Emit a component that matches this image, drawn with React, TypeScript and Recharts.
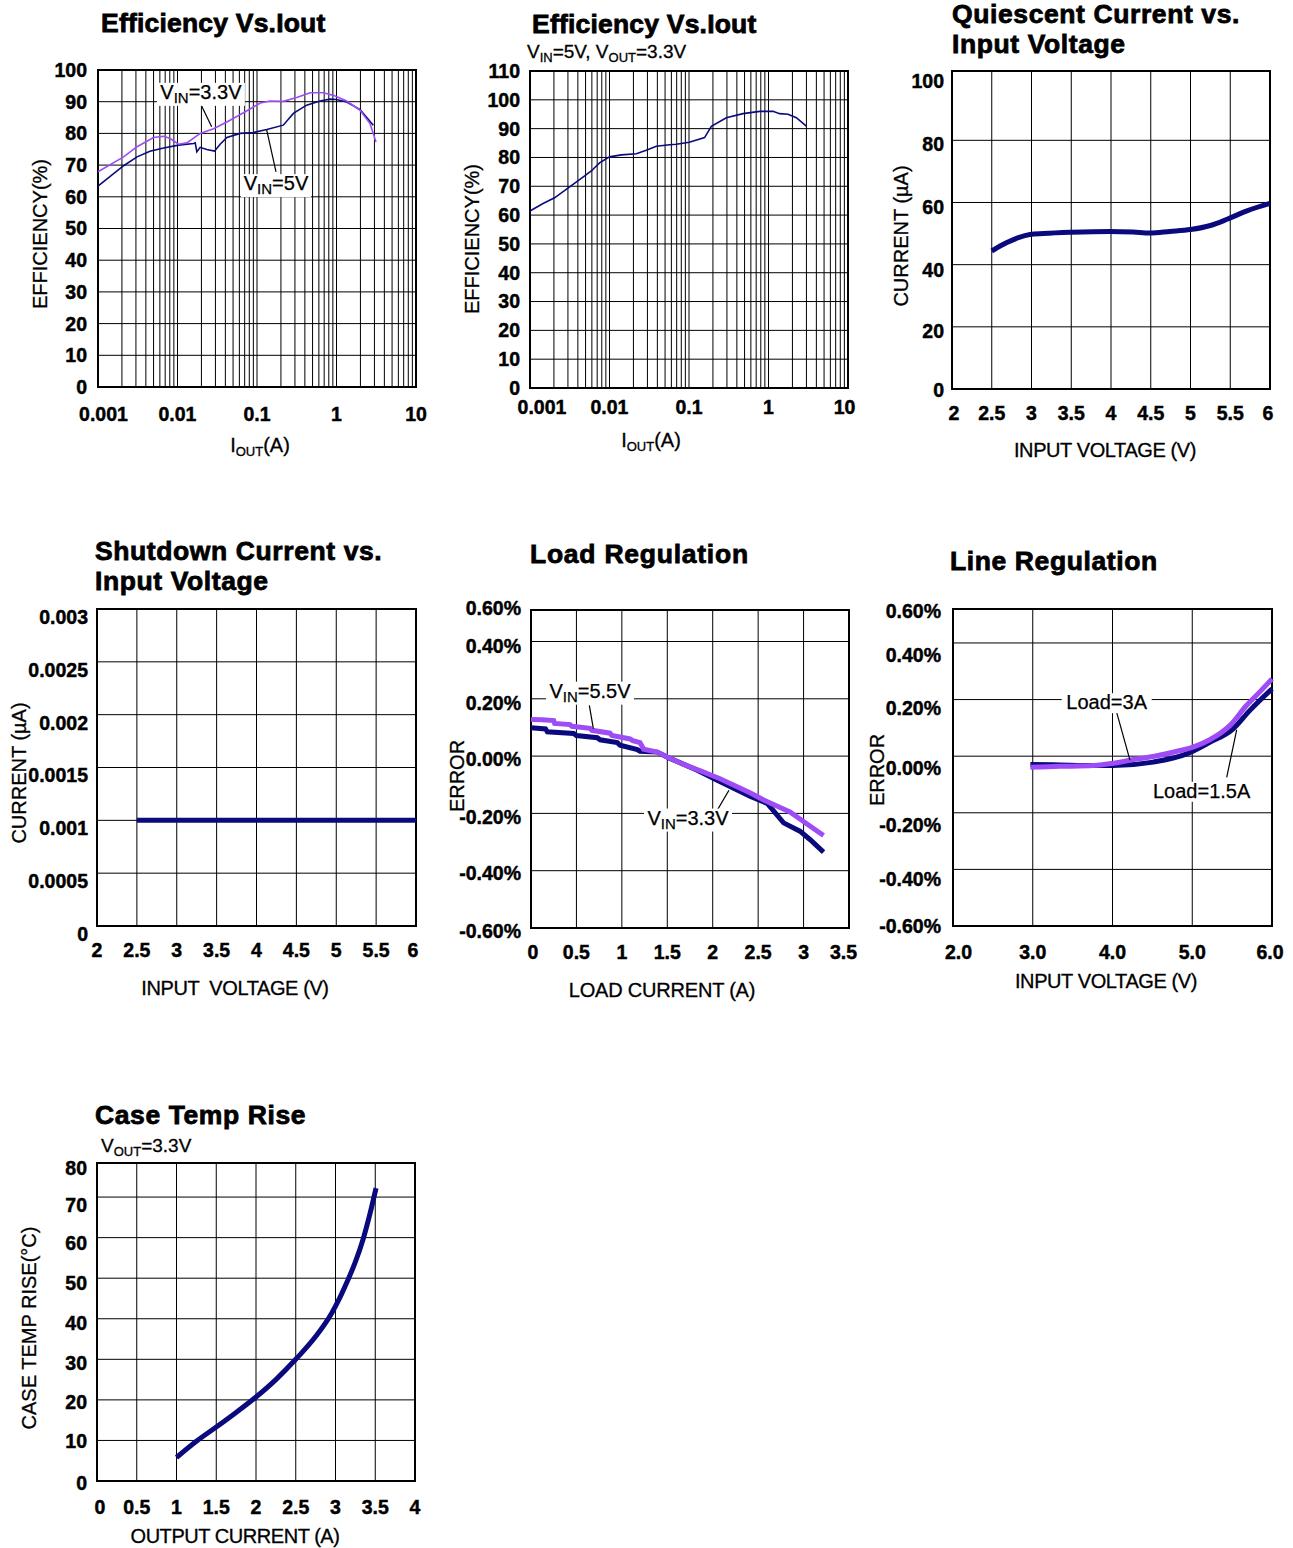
import React from "react";
import {
  LineChart, Line, XAxis, YAxis, CartesianGrid, ReferenceArea, ReferenceLine, ReferenceDot,
} from "recharts";

const FONT = '"Liberation Sans", Arial, Helvetica, sans-serif';
const NAVY = "#0a0a7e";
const PURPLE = "#9d4cf6";

// ---- Efficiency vs Iout (left, two input voltages) ----
const effIout33 = [0.001, 0.0021, 0.0031, 0.005, 0.0067, 0.0081, 0.0103, 0.0131, 0.0193, 0.0284, 0.0418, 0.0676, 0.11, 0.146, 0.214, 0.316, 0.466, 0.684, 0.913, 1.345, 1.98, 2.64, 3.14];
const eff33 = [67.9, 72.6, 75.8, 78.7, 79.1, 78.4, 76.6, 77.0, 80.0, 81.5, 83.6, 86.5, 89.6, 90.2, 90.1, 91.3, 92.8, 92.8, 92.0, 90.2, 87.3, 83.1, 77.3];
const effIout5 = [0.001, 0.0021, 0.0031, 0.0045, 0.0067, 0.0103, 0.0159, 0.0167, 0.0175, 0.0193, 0.0234, 0.0292, 0.0344, 0.0418, 0.0616, 0.0904, 0.133, 0.214, 0.287, 0.421, 0.62, 0.83, 1.0, 1.345, 1.98, 2.9];
const eff5 = [63.4, 69.8, 72.6, 74.4, 75.4, 76.3, 76.8, 77.0, 74.2, 75.6, 74.9, 74.4, 76.6, 78.7, 80.0, 80.3, 81.2, 82.6, 86.3, 88.9, 90.2, 90.8, 90.7, 89.9, 87.5, 82.6];
const eff1Ticks = [0, 10, 20, 30, 40, 50, 60, 70, 80, 90, 100];

// ---- Efficiency vs Iout (VIN=5V, VOUT=3.3V) ----
const eff2Iout = [0.001, 0.00146, 0.00204, 0.00315, 0.00464, 0.0059, 0.0075, 0.01, 0.0141, 0.0218, 0.029, 0.0388, 0.0571, 0.0692, 0.1008, 0.157, 0.191, 0.295, 0.478, 0.775, 1.14, 1.38, 1.76, 2.24, 2.99];
const eff2 = [61.4, 64.0, 66.0, 69.8, 73.2, 75.3, 78.1, 80.2, 80.9, 81.3, 82.5, 83.9, 84.4, 84.6, 85.3, 86.9, 90.8, 93.8, 95.2, 96.0, 96.0, 95.2, 95.0, 93.8, 90.9];
const eff2Ticks = [0, 10, 20, 30, 40, 50, 60, 70, 80, 90, 100, 110];

const decades = [0.001, 0.01, 0.1, 1, 10];
const decadeLabels = ["0.001", "0.01", "0.1", "1", "10"];
const logTicks = decades.flatMap((d, i) =>
  i === decades.length - 1 ? [d] : [1, 2, 3, 4, 5, 6, 7, 8, 9].map((m) => +(m * d).toPrecision(3))
);

// ---- Quiescent current ----
const iqVin = [2.5, 2.69, 2.835, 2.98, 3.15, 3.49, 3.99, 4.28, 4.49, 4.74, 5.0, 5.25, 5.46, 5.71, 6.0];
const iqCur = [44.4, 47.1, 48.7, 49.7, 50.0, 50.4, 50.7, 50.5, 50.2, 50.7, 51.3, 52.6, 54.6, 57.3, 59.7];
const iqTicks = [0, 20, 40, 60, 80, 102.3];
const iqLabels = ["0", "20", "40", "60", "80", "100"];
const vinTicks = [2, 2.5, 3, 3.5, 4, 4.5, 5, 5.5, 6];
const vinLabels = ["2", "2.5", "3", "3.5", "4", "4.5", "5", "5.5", "6"];

// ---- Shutdown current ----
const sdVin = [2.5, 3, 3.5, 4, 4.5, 5, 5.5, 6];
const sdCur = [0.001, 0.001, 0.001, 0.001, 0.001, 0.001, 0.001, 0.001];
const sdTicks = [0, 0.0005, 0.001, 0.0015, 0.002, 0.0025, 0.003];
const sdLabels = ["0", "0.0005", "0.001", "0.0015", "0.002", "0.0025", "0.003"];

// ---- Load regulation ----
const lrI55 = [0, 0.12, 0.25, 0.26, 0.43, 0.45, 0.65, 0.67, 0.87, 0.89, 1.09, 1.12, 1.2, 1.24, 1.39, 1.5, 1.68, 1.9, 2.08, 2.41, 2.56, 2.85, 3.07, 3.22];
const lrE55 = [0.128, 0.127, 0.124, 0.114, 0.110, 0.104, 0.097, 0.090, 0.080, 0.072, 0.060, 0.054, 0.047, 0.024, 0.014, -0.003, -0.029, -0.056, -0.079, -0.128, -0.153, -0.195, -0.244, -0.277];
const lrI33 = [0, 0.16, 0.18, 0.47, 0.5, 0.73, 0.76, 0.95, 0.98, 1.17, 1.2, 1.39, 1.53, 1.83, 2.05, 2.41, 2.6, 2.78, 2.96, 3.07, 3.22];
const lrE33 = [0.099, 0.095, 0.085, 0.079, 0.072, 0.064, 0.057, 0.047, 0.038, 0.023, 0.017, 0.014, -0.008, -0.049, -0.084, -0.140, -0.165, -0.233, -0.262, -0.291, -0.335];
const lrTicks = [-0.6, -0.4, -0.2, 0, 0.2, 0.4, 0.51];
const errLabels = ["-0.60%", "-0.40%", "-0.20%", "0.00%", "0.20%", "0.40%", "0.60%"];
const loadTicks = [0, 0.5, 1, 1.5, 2, 2.5, 3, 3.5];
const loadLabels = ["0", "0.5", "1", "1.5", "2", "2.5", "3", "3.5"];

// ---- Line regulation ----
const lnV3A = [2.97, 3.34, 3.76, 4.01, 4.26, 4.51, 4.85, 5.01, 5.22, 5.47, 5.68, 5.85, 6.0];
const lnE3A = [-0.039, -0.036, -0.033, -0.025, -0.012, -0.001, 0.020, 0.032, 0.058, 0.108, 0.179, 0.228, 0.273];
const lnV15A = [2.97, 3.34, 3.76, 4.01, 4.51, 4.93, 5.22, 5.51, 5.72, 6.0];
const lnE15A = [-0.029, -0.031, -0.033, -0.033, -0.021, 0.008, 0.049, 0.096, 0.161, 0.238];
const lnTicks = [-0.6, -0.4, -0.2, 0, 0.2, 0.4, 0.52];
const lnVTicks = [2, 3, 4, 5, 6];
const lnVLabels = ["2.0", "3.0", "4.0", "5.0", "6.0"];

// ---- Case temp rise ----
const ctI = [1.0, 1.25, 1.5, 1.75, 2.0, 2.25, 2.5, 2.75, 2.95, 3.05, 3.15, 3.25, 3.35, 3.43, 3.51];
const ctT = [5.8, 9.8, 13.3, 16.9, 20.7, 25.0, 30.0, 35.6, 41.3, 45.0, 49.3, 54.0, 59.8, 65.6, 72.2];
const ctTicks = [0, 10, 20, 30, 40, 50, 60, 70, 78.4];
const ctLabels = ["0", "10", "20", "30", "40", "50", "60", "70", "80"];
const ctITicks = [0, 0.5, 1, 1.5, 2, 2.5, 3, 3.5, 4];
const ctILabels = ["0", "0.5", "1", "1.5", "2", "2.5", "3", "3.5", "4"];

const zip = (xs: number[], ys: number[]) => xs.map((x, i) => ({ x, y: ys[i] }));
const byIndex = (labels: string[]) => (_v: number, i: number) => labels[i];
const fmtLog = (v: number) => {
  const i = decades.findIndex((d) => Math.abs(v / d - 1) < 1e-6);
  return i >= 0 ? decadeLabels[i] : "";
};

const PL = 110, PT = 12, PR = 14, PB = 70;

function Frame({ left, top, w, h, children }: any) {
  return (
    <div style={{ position: "absolute", left: left - PL, top: top - PT }}>
      <LineChart width={w + PL + PR} height={h + PT + PB} margin={{ top: PT, right: PR, bottom: 0, left: 0 }}>
        {children}
      </LineChart>
    </div>
  );
}

function Tick(props: any) {
  const { x, y, payload, index, kind, fmt, ox = 0, oy = 0, oxs, oys, fs = 19.5 } = props;
  const label = fmt(payload.value, index);
  if (!label) return null;
  const isY = kind === "y";
  const tx = x + ox + (oxs?.[index] ?? 0);
  const ty = y + oy + (oys?.[index] ?? 0) + (isY ? 0.355 * fs : 0.71 * fs);
  return (
    <text x={tx} y={ty} textAnchor={isY ? "end" : "middle"} fontSize={fs} fontWeight={700} fill="#000"
      stroke="#000" strokeWidth={0.45} fontFamily={FONT}>
      {label}
    </text>
  );
}

function Callout({ viewBox, w, main, sub, rest, fs = 20 }: any) {
  const cx = viewBox.x + viewBox.width / 2;
  const by = viewBox.y + viewBox.height / 2;
  const h = sub ? 23 : 20;
  return (
    <g>
      <rect x={cx - w / 2} y={by - 16} width={w} height={h} fill="#fff" />
      <text x={cx} y={by} textAnchor="middle" fontSize={fs} fontFamily={FONT} fill="#000" stroke="#000" strokeWidth={0.25}>
        {main}
        {sub ? <tspan fontSize={15} dy={4}>{sub}</tspan> : null}
        {rest ? <tspan dy={sub ? -4 : 0}>{rest}</tspan> : null}
      </text>
    </g>
  );
}

function Cap({ x, base, fs = 20, bold = false, center = false, ls = 0, children }: any) {
  return (
    <div
      style={{
        position: "absolute", left: x, top: base - 0.8465 * fs, fontSize: fs, lineHeight: 1,
        fontWeight: bold ? 700 : 400, whiteSpace: "pre", letterSpacing: ls,
        WebkitTextStroke: bold ? "0.8px #000" : "0.3px #000",
        transform: center ? "translateX(-50%)" : undefined,
      }}
    >
      {children}
    </div>
  );
}

function VCap({ cx, cy, fs = 20, ls = 0, children }: any) {
  return (
    <div
      style={{
        position: "absolute", left: cx, top: cy, fontSize: fs, lineHeight: 1, whiteSpace: "pre",
        letterSpacing: ls, WebkitTextStroke: "0.3px #000", transform: "translate(-50%, -50%) rotate(-90deg)",
      }}
    >
      {children}
    </div>
  );
}

const Sub = ({ children, fs = 13, drop = 4 }: any) => (
  <span style={{ fontSize: fs, position: "relative", top: drop }}>{children}</span>
);

const axisCommon = { tickSize: 0, axisLine: false, tickLine: false, interval: 0 as const };
const Border = (p: any) => <ReferenceArea {...p} fill="none" stroke="#000" strokeWidth={2} />;
const TLS = 0.6;

export default function App() {
  return (
    <div style={{ position: "absolute", left: 0, top: 0, width: 1293, height: 1548, background: "#fff", fontFamily: FONT, color: "#000" }}>
      {/* Efficiency vs Iout, two VIN */}
      <Frame left={98} top={70} w={318} h={317}>
        <CartesianGrid stroke="#000" strokeWidth={1} />
        <XAxis type="number" dataKey="x" scale="log" domain={[0.001, 10]} ticks={logTicks} height={PB} {...axisCommon}
          tick={<Tick kind="x" fmt={fmtLog} oy={18} oxs={{ 0: 5.5 }} />} />
        <YAxis type="number" domain={[0, 100]} ticks={eff1Ticks} width={PL} {...axisCommon}
          tick={<Tick kind="y" fmt={(v: number) => String(v)} ox={-9} />} />
        {Border({ x1: 0.001, x2: 10, y1: 0, y2: 100 })}
        <Line data={zip(effIout5, eff5)} dataKey="y" stroke={NAVY} strokeWidth={1.6} dot={false} isAnimationActive={false} />
        <Line data={zip(effIout33, eff33)} dataKey="y" stroke={PURPLE} strokeWidth={1.6} dot={false} isAnimationActive={false} />
        <ReferenceLine segment={[{ x: 0.0202, y: 88.6 }, { x: 0.0269, y: 82.1 }]} stroke="#000" strokeWidth={1.2} />
        <ReferenceLine segment={[{ x: 0.1324, y: 81.1 }, { x: 0.1734, y: 67.9 }]} stroke="#000" strokeWidth={1.2} />
        <ReferenceDot x={0.0197} y={90.9} r={0} fill="none" stroke="none" label={<Callout w={88} main="V" sub="IN" rest="=3.3V" />} />
        <ReferenceDot x={0.1734} y={62.1} r={0} fill="none" stroke="none" label={<Callout w={70} main="V" sub="IN" rest="=5V" />} />
      </Frame>

      {/* Efficiency vs Iout, VIN=5V */}
      <Frame left={530} top={71} w={318} h={317}>
        <CartesianGrid stroke="#000" strokeWidth={1} />
        <XAxis type="number" dataKey="x" scale="log" domain={[0.001, 10]} ticks={logTicks} height={PB} {...axisCommon}
          tick={<Tick kind="x" fmt={fmtLog} oy={10} oxs={{ 0: 12, 36: -3.5 }} />} />
        <YAxis type="number" domain={[0, 110]} ticks={eff2Ticks} width={PL} {...axisCommon}
          tick={<Tick kind="y" fmt={(v: number) => String(v)} ox={-8} />} />
        {Border({ x1: 0.001, x2: 10, y1: 0, y2: 110 })}
        <Line data={zip(eff2Iout, eff2)} dataKey="y" stroke={NAVY} strokeWidth={1.6} dot={false} isAnimationActive={false} />
      </Frame>

      {/* Quiescent current */}
      <Frame left={952} top={71} w={318} h={318}>
        <CartesianGrid stroke="#000" strokeWidth={1} />
        <XAxis type="number" dataKey="x" domain={[2, 6]} ticks={vinTicks} height={PB} {...axisCommon}
          tick={<Tick kind="x" fmt={byIndex(vinLabels)} oy={15.6} oxs={{ 0: 2, 8: -2 }} />} />
        <YAxis type="number" domain={[0, 102.3]} ticks={iqTicks} width={PL} {...axisCommon}
          tick={<Tick kind="y" fmt={byIndex(iqLabels)} ox={-6} oys={[1, 4.3, 5, 4.4, 3.3, 9.6]} />} />
        {Border({ x1: 2, x2: 6, y1: 0, y2: 102.3 })}
        <Line data={zip(iqVin, iqCur)} dataKey="y" type="monotone" stroke={NAVY} strokeWidth={5} dot={false} isAnimationActive={false} />
      </Frame>

      {/* Shutdown current */}
      <Frame left={97} top={609} w={319} h={317}>
        <CartesianGrid stroke="#000" strokeWidth={1} />
        <XAxis type="number" dataKey="x" domain={[2, 6]} ticks={vinTicks} height={PB} {...axisCommon}
          tick={<Tick kind="x" fmt={byIndex(vinLabels)} oy={15.6} oxs={{ 8: -3 }} />} />
        <YAxis type="number" domain={[0, 0.003]} ticks={sdTicks} width={PL} {...axisCommon}
          tick={<Tick kind="y" fmt={byIndex(sdLabels)} ox={-7} oy={8} />} />
        {Border({ x1: 2, x2: 6, y1: 0, y2: 0.003 })}
        <Line data={zip(sdVin, sdCur)} dataKey="y" stroke={NAVY} strokeWidth={5} dot={false} isAnimationActive={false} />
      </Frame>

      {/* Load regulation */}
      <Frame left={531} top={610} w={318} h={318}>
        <CartesianGrid stroke="#000" strokeWidth={1} />
        <XAxis type="number" dataKey="x" domain={[0, 3.5]} ticks={loadTicks} height={PB} {...axisCommon}
          tick={<Tick kind="x" fmt={byIndex(loadLabels)} oy={15.6} oxs={{ 0: 2, 7: -5.5 }} />} />
        <YAxis type="number" domain={[-0.6, 0.51]} ticks={lrTicks} width={PL} {...axisCommon}
          tick={<Tick kind="y" fmt={byIndex(errLabels)} ox={-8} oys={[2.8, 2, 3.3, 2.8, 4.3, 4.3, -2]} />} />
        {Border({ x1: 0, x2: 3.5, y1: -0.6, y2: 0.51 })}
        <Line data={zip(lrI33, lrE33)} dataKey="y" stroke={NAVY} strokeWidth={5} dot={false} isAnimationActive={false} />
        <Line data={zip(lrI55, lrE55)} dataKey="y" stroke={PURPLE} strokeWidth={5} dot={false} isAnimationActive={false} />
        <ReferenceLine segment={[{ x: 0.642, y: 0.177 }, { x: 0.686, y: 0.096 }]} stroke="#000" strokeWidth={1.2} />
        <ReferenceLine segment={[{ x: 2.044, y: -0.192 }, { x: 2.179, y: -0.119 }]} stroke="#000" strokeWidth={1.2} />
        <ReferenceDot x={0.649} y={0.204} r={0} fill="none" stroke="none" label={<Callout w={88} main="V" sub="IN" rest="=5.5V" />} />
        <ReferenceDot x={1.728} y={-0.239} r={0} fill="none" stroke="none" label={<Callout w={88} main="V" sub="IN" rest="=3.3V" />} />
      </Frame>

      {/* Line regulation */}
      <Frame left={953} top={609} w={319} h={317}>
        <CartesianGrid stroke="#000" strokeWidth={1} />
        <XAxis type="number" dataKey="x" domain={[2, 6]} ticks={lnVTicks} height={PB} {...axisCommon}
          tick={<Tick kind="x" fmt={byIndex(lnVLabels)} oy={17} oxs={{ 0: 5.5, 4: -2 }} />} />
        <YAxis type="number" domain={[-0.6, 0.52]} ticks={lnTicks} width={PL} {...axisCommon}
          tick={<Tick kind="y" fmt={byIndex(errLabels)} ox={-10} oys={[0.5, 9.2, 12.5, 11.7, 8.8, 12.2, 1.7]} />} />
        {Border({ x1: 2, x2: 6, y1: -0.6, y2: 0.52 })}
        <Line data={zip(lnV15A, lnE15A)} dataKey="y" type="monotone" stroke={NAVY} strokeWidth={5} dot={false} isAnimationActive={false} />
        <Line data={zip(lnV3A, lnE3A)} dataKey="y" type="monotone" stroke={PURPLE} strokeWidth={5} dot={false} isAnimationActive={false} />
        <ReferenceLine segment={[{ x: 4.053, y: 0.154 }, { x: 4.219, y: -0.014 }]} stroke="#000" strokeWidth={1.2} />
        <ReferenceLine segment={[{ x: 5.432, y: -0.075 }, { x: 5.557, y: 0.093 }]} stroke="#000" strokeWidth={1.2} />
        <ReferenceDot x={3.927} y={0.166} r={0} fill="none" stroke="none" label={<Callout w={90} main="Load=3A" />} />
        <ReferenceDot x={5.118} y={-0.147} r={0} fill="none" stroke="none" label={<Callout w={104} main="Load=1.5A" />} />
      </Frame>

      {/* Case temp rise */}
      <Frame left={97} top={1163} w={318} h={318}>
        <CartesianGrid stroke="#000" strokeWidth={1} />
        <XAxis type="number" dataKey="x" domain={[0, 4]} ticks={ctITicks} height={PB} {...axisCommon}
          tick={<Tick kind="x" fmt={byIndex(ctILabels)} oy={17} oxs={{ 0: 3 }} />} />
        <YAxis type="number" domain={[0, 78.4]} ticks={ctTicks} width={PL} {...axisCommon}
          tick={<Tick kind="y" fmt={byIndex(ctLabels)} ox={-8} oys={[2.5, 0.5, 2, 3.5, 4.7, 5, 5, 7.7, 5.2]} />} />
        {Border({ x1: 0, x2: 4, y1: 0, y2: 78.4 })}
        <Line data={zip(ctI, ctT)} dataKey="y" type="monotone" stroke={NAVY} strokeWidth={5} dot={false} isAnimationActive={false} />
      </Frame>

      {/* titles */}
      <Cap x={101} base={32.3} fs={26.5} bold ls={0.2}>Efficiency Vs.Iout</Cap>
      <Cap x={532} base={33.3} fs={26.5} bold ls={0.2}>Efficiency Vs.Iout</Cap>
      <Cap x={952} base={23.5} fs={26.5} bold ls={TLS}>Quiescent Current vs.</Cap>
      <Cap x={952} base={53.5} fs={26.5} bold ls={TLS}>Input Voltage</Cap>
      <Cap x={95} base={560.5} fs={26.5} bold ls={TLS}>Shutdown Current vs.</Cap>
      <Cap x={95} base={590.5} fs={26.5} bold ls={TLS}>Input Voltage</Cap>
      <Cap x={530} base={563} fs={26.5} bold ls={0.75}>Load Regulation</Cap>
      <Cap x={950} base={570} fs={26.5} bold ls={TLS}>Line Regulation</Cap>
      <Cap x={95} base={1124.5} fs={26.5} bold ls={TLS}>Case Temp Rise</Cap>

      {/* subtitles */}
      <Cap x={527} base={58} fs={19}>V<Sub>IN</Sub>=5V, V<Sub>OUT</Sub>=3.3V</Cap>
      <Cap x={101} base={1152} fs={19}>V<Sub>OUT</Sub>=3.3V</Cap>

      {/* axis titles */}
      <Cap x={260} base={452} center>I<Sub>OUT</Sub>(A)</Cap>
      <Cap x={651} base={447} center>I<Sub>OUT</Sub>(A)</Cap>
      <Cap x={1105} base={457} center ls={-0.4}>INPUT VOLTAGE (V)</Cap>
      <Cap x={235} base={995} center ls={-0.4}>{"INPUT  VOLTAGE (V)"}</Cap>
      <Cap x={662} base={997} center ls={-0.2}>LOAD CURRENT (A)</Cap>
      <Cap x={1106} base={988} center ls={-0.4}>INPUT VOLTAGE (V)</Cap>
      <Cap x={235} base={1543} center ls={-0.45}>OUTPUT CURRENT (A)</Cap>

      <VCap cx={40} cy={234}>EFFICIENCY(%)</VCap>
      <VCap cx={472} cy={239}>EFFICIENCY(%)</VCap>
      <VCap cx={901} cy={236}>CURRENT (µA)</VCap>
      <VCap cx={19} cy={773}>CURRENT (µA)</VCap>
      <VCap cx={457} cy={776}>ERROR</VCap>
      <VCap cx={877} cy={770}>ERROR</VCap>
      <VCap cx={29} cy={1328}>CASE TEMP RISE(°C)</VCap>
    </div>
  );
}
